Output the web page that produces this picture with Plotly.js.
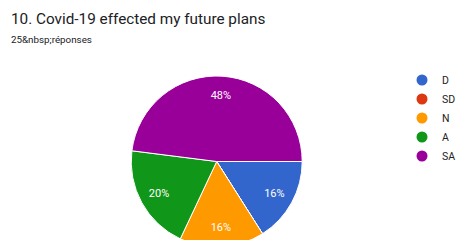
<!DOCTYPE html>
<html>
<head>
<meta charset="utf-8">
<script src="https://cdn.plot.ly/plotly-3.0.1.min.js"></script>
<style>
html,body{margin:0;padding:0;overflow:hidden;background:#fff;}
#chart{width:458px;height:260px;}
</style>
</head>
<body>
<div id="chart"></div>
<script>
const titleText = "10. Covid-19 effected my future plans";
const subtitleText = "25&amp;nbsp;réponses";
const labels = ["D", "SD", "N", "A", "SA"];
const values = [4, 0, 4, 5, 12];
const colors = ["#3366cc", "#dc3912", "#ff9900", "#109618", "#990099"];

const W = 458, H = 260;
const cx = 216.7, cy = 161.5, r = 85.5;
const dom = {x: [(cx - r) / W, (cx + r) / W], y: [(H - (cy + r)) / H, (H - (cy - r)) / H]};

const pie = {
  type: "pie",
  labels: labels,
  values: values,
  sort: false,
  direction: "clockwise",
  rotation: 90,
  marker: {colors: colors, line: {color: "#ffffff", width: 1}},
  textinfo: "none",
  showlegend: false,
  hoverinfo: "label+percent",
  domain: dom
};

// transparent ring on top of the pie that carries the percent labels
const pieLabels = {
  type: "pie",
  labels: labels,
  values: values,
  sort: false,
  direction: "clockwise",
  rotation: 90,
  hole: 0.54,
  marker: {colors: labels.map(() => "rgba(0,0,0,0)"), line: {width: 0}},
  textinfo: "percent",
  textposition: "inside",
  insidetextorientation: "horizontal",
  insidetextfont: {color: "#ffffff", size: 11, family: "Roboto, Arial, sans-serif"},
  showlegend: false,
  hoverinfo: "skip",
  domain: dom
};

const legendTraces = labels.map((l, i) => ({
  type: "scatter",
  mode: "markers",
  x: [null], y: [null],
  name: l,
  marker: {color: colors[i], size: 11, symbol: "circle"},
  showlegend: true,
  hoverinfo: "skip"
}));

const layout = {
  width: W, height: H,
  margin: {l: 0, r: 0, t: 0, b: 0, autoexpand: false},
  paper_bgcolor: "#ffffff",
  plot_bgcolor: "#ffffff",
  font: {family: "Roboto, Arial, sans-serif", color: "#222222"},
  xaxis: {visible: false, domain: [0.95, 0.96]},
  yaxis: {visible: false, domain: [0.95, 0.96]},
  showlegend: true,
  legend: {
    x: 402 / W, xanchor: "left",
    y: 1 - 65.5 / H, yanchor: "top",
    font: {size: 10.5, color: "#222222"},
    bgcolor: "rgba(0,0,0,0)",
    tracegroupgap: 0,
    itemwidth: 30
  },
  annotations: [
    {text: titleText, xref: "paper", yref: "paper", x: 9 / W, y: 1 - 8 / H, xanchor: "left", yanchor: "top", showarrow: false, font: {size: 15.3, color: "#202124"}},
    {text: subtitleText, xref: "paper", yref: "paper", x: 9 / W, y: 1 - 32 / H, xanchor: "left", yanchor: "top", showarrow: false, font: {size: 9.8, color: "#202124"}}
  ]
};

Plotly.newPlot("chart", [pie, pieLabels].concat(legendTraces), layout, {displayModeBar: false, staticPlot: true});
</script>
</body>
</html>
